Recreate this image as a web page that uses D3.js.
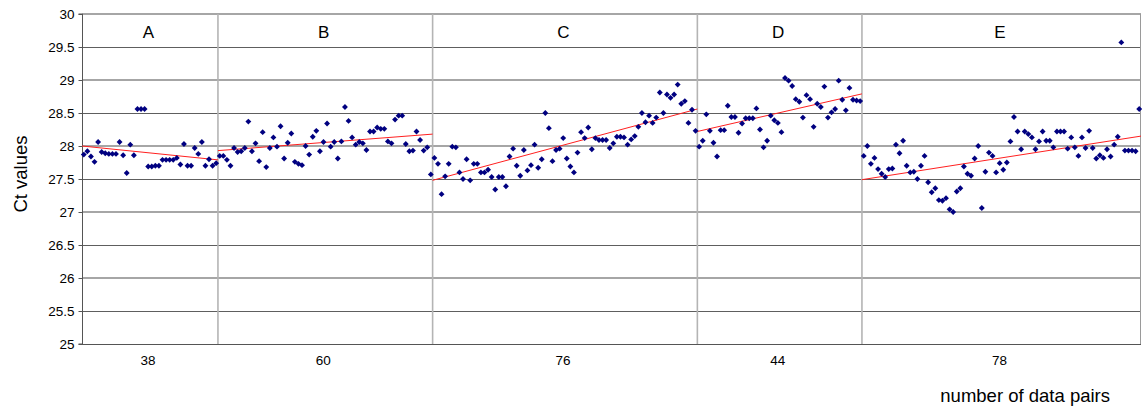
<!DOCTYPE html>
<html>
<head>
<meta charset="utf-8">
<script src="https://cdn.jsdelivr.net/npm/d3@7"></script>
<style>
  html, body { margin: 0; padding: 0; background: #ffffff; }
  svg { display: block; }
  text { font-family: "Liberation Sans", Arial, sans-serif; fill: #000; }
</style>
</head>
<body>
<svg id="chart" width="1145" height="408"></svg>
<script>
// ---- data ----
const groupNames = ["A", "B", "C", "D", "E"];
const pairLabels = ["38", "60", "76", "44", "78"];
const yTicks = [25, 25.5, 26, 26.5, 27, 27.5, 28, 28.5, 29, 29.5, 30];

const seriesA = [27.87, 27.92, 27.84, 27.76, 28.06, 27.91, 27.89, 27.88, 27.88, 27.88,
  28.06, 27.86, 27.59, 28.02, 27.86, 28.56, 28.56, 28.56, 27.69, 27.69,
  27.70, 27.70, 27.79, 27.79, 27.79, 27.79, 27.82, 27.72, 28.03, 27.70,
  27.70, 27.97, 27.88, 28.06, 27.70, 27.80, 27.70, 27.74];
const seriesB = [27.85, 27.85, 27.79, 27.70, 27.97, 27.91, 27.92, 27.97, 28.37, 27.92,
  28.04, 27.77, 28.21, 27.68, 27.97, 28.13, 27.99, 28.30, 27.81, 28.05,
  28.19, 27.76, 27.73, 27.71, 28.00, 27.87, 28.14, 28.23, 27.92, 28.06,
  28.34, 27.99, 28.06, 27.81, 28.07, 28.59, 28.38, 28.13, 28.02, 28.06,
  28.04, 27.94, 28.22, 28.22, 28.28, 28.26, 28.26, 28.07, 28.04, 28.40,
  28.46, 28.46, 28.03, 27.92, 27.93, 28.22, 28.09, 27.93, 27.98, 27.57];
const seriesC = [27.82, 27.73, 27.27, 27.54, 27.73, 27.99, 27.98, 27.60, 27.50, 27.80,
  27.48, 27.73, 27.73, 27.60, 27.60, 27.64, 27.53, 27.34, 27.53, 27.53,
  27.39, 27.84, 27.96, 27.70, 27.55, 27.94, 27.63, 27.71, 28.02, 27.67,
  27.80, 28.50, 28.27, 27.77, 27.94, 27.96, 28.12, 27.81, 27.69, 27.60,
  27.90, 28.21, 28.12, 28.28, 27.95, 28.12, 28.09, 28.09, 28.09, 27.97,
  28.04, 28.14, 28.14, 28.13, 28.02, 28.10, 28.15, 28.29, 28.50, 28.36,
  28.46, 28.35, 28.43, 28.81, 28.50, 28.78, 28.73, 28.78, 28.93, 28.64,
  28.68, 28.35, 28.55, 28.23];
const seriesD = [27.99, 28.08, 28.48, 28.23, 28.05, 27.84, 28.24, 28.24, 28.61, 28.44,
  28.44, 28.20, 28.34, 28.42, 28.42, 28.42, 28.57, 28.25, 27.98, 28.08,
  28.46, 28.39, 28.35, 28.21, 29.03, 28.99, 28.91, 28.71, 28.67, 28.43,
  28.77, 28.71, 28.29, 28.64, 28.59, 28.90, 28.43, 28.51, 28.56, 28.99,
  28.70, 28.54, 28.88, 28.70, 28.69, 28.68];
const seriesE = [27.85, 28.00, 27.73, 27.82, 27.65, 27.58, 27.53, 27.65, 27.66, 28.02,
  27.89, 28.08, 27.70, 27.60, 27.61, 27.50, 27.70, 27.85, 27.45, 27.30,
  27.36, 27.18, 27.17, 27.21, 27.04, 27.00, 27.31, 27.36, 27.69, 27.58,
  27.55, 27.81, 28.00, 27.06, 27.61, 27.90, 27.85, 27.60, 27.74, 27.64,
  27.75, 28.07, 28.44, 28.22, 27.95, 28.22, 28.18, 28.13, 27.95, 28.07,
  28.22, 28.08, 28.08, 27.98, 28.22, 28.22, 28.22, 27.96, 28.13, 27.98,
  27.85, 28.13, 27.97, 28.23, 27.97, 27.81, 27.86, 27.82, 27.95, 27.84,
  28.02, 28.14, 29.57, 27.93, 27.93, 27.93, 27.92, 28.56];
// linear trend line end values per group (start of group, end of group)
const trendStart = [28.00, 27.93, 27.48, 28.22, 27.49];
const trendEnd = [27.79, 28.18, 28.56, 28.79, 28.15];

// ---- build ----
const allSeries = [seriesA, seriesB, seriesC, seriesD, seriesE];
let offset = 0;
const groups = allSeries.map((vals, g) => {
  const grp = { name: groupNames[g], label: pairLabels[g], start: offset, end: offset + vals.length,
    points: vals.map((v, i) => ({ idx: offset + i + 0.5, v })),
    t0: trendStart[g], t1: trendEnd[g] };
  offset += vals.length;
  return grp;
});
const total = offset;

const margin = { left: 82, right: 1141, top: 14, bottom: 344 };
const x = d3.scaleLinear().domain([0, total]).range([margin.left, margin.right]);
const y = d3.scaleLinear().domain([25, 30]).range([margin.bottom, margin.top]);

const svg = d3.select("#chart");

// horizontal gridlines
svg.append("g").selectAll("line").data(yTicks.filter(t => t > 25)).join("line")
  .attr("x1", margin.left).attr("x2", margin.right)
  .attr("y1", d => Math.round(y(d)) + (Number.isInteger(d) ? 0 : 0.5))
  .attr("y2", d => Math.round(y(d)) + (Number.isInteger(d) ? 0 : 0.5))
  .attr("stroke", d => Number.isInteger(d) ? "#a6a6a6" : "#5e5e5e")
  .attr("stroke-width", d => Number.isInteger(d) ? 2 : 1);

// vertical group dividers + right border
const dividers = groups.slice(1).map(g => g.start);
svg.append("g").selectAll("line").data(dividers).join("line")
  .attr("x1", d => x(d)).attr("x2", d => x(d))
  .attr("y1", margin.top).attr("y2", margin.bottom)
  .attr("stroke", "#b4b4b4").attr("stroke-width", 1.6);
svg.append("line")
  .attr("x1", x(total) - 0.5).attr("x2", x(total) - 0.5)
  .attr("y1", margin.top).attr("y2", margin.bottom)
  .attr("stroke", "#9a9a9a").attr("stroke-width", 1);

// y axis
const yAxis = d3.axisLeft(y).tickValues(yTicks).tickSize(4).tickPadding(4)
  .tickFormat(d => String(d));
const yg = svg.append("g").attr("transform", `translate(${margin.left + 0.5},0)`).call(yAxis);
yg.select(".domain").attr("stroke", "#555").attr("d", `M-4,${y(30)}H0V${y(25)}H-4`);
yg.selectAll(".tick line").attr("stroke", "#555");
yg.selectAll(".tick text").style("font-size", "13.5px").attr("fill", "#000")
  .style("font-family", '"Liberation Sans", Arial, sans-serif');

// bottom axis line
svg.append("line")
  .attr("x1", margin.left).attr("x2", margin.right)
  .attr("y1", y(25) + 0.5).attr("y2", y(25) + 0.5)
  .attr("stroke", "#555").attr("stroke-width", 1);

// group labels at top and counts at bottom
svg.append("g").selectAll("text").data(groups).join("text")
  .attr("x", d => x((d.start + d.end) / 2) - 1.5).attr("y", 37.5)
  .attr("text-anchor", "middle").style("font-size", "17px").text(d => d.name);
svg.append("g").selectAll("text").data(groups).join("text")
  .attr("x", d => x((d.start + d.end) / 2) - 2).attr("y", 365)
  .attr("text-anchor", "middle").style("font-size", "13.5px").text(d => d.label);

// trend lines
svg.append("g").selectAll("line").data(groups).join("line")
  .attr("x1", d => x(d.start)).attr("x2", d => x(d.end))
  .attr("y1", d => y(d.t0)).attr("y2", d => y(d.t1))
  .attr("stroke", "#ff2020").attr("stroke-width", 1);

// markers
const diamond = d3.symbol().type(d3.symbolDiamond2).size(22);
svg.append("g").selectAll("path").data(groups.flatMap(g => g.points)).join("path")
  .attr("transform", d => `translate(${x(d.idx)},${y(d.v)})`)
  .attr("d", diamond)
  .attr("fill", "#000080");

// axis titles
svg.append("text")
  .attr("transform", `translate(27,174) rotate(-90)`)
  .attr("text-anchor", "middle").style("font-size", "18.5px").text("Ct values");
svg.append("text")
  .attr("x", 1110).attr("y", 402)
  .attr("text-anchor", "end").style("font-size", "18.5px").text("number of data pairs");
</script>
</body>
</html>
